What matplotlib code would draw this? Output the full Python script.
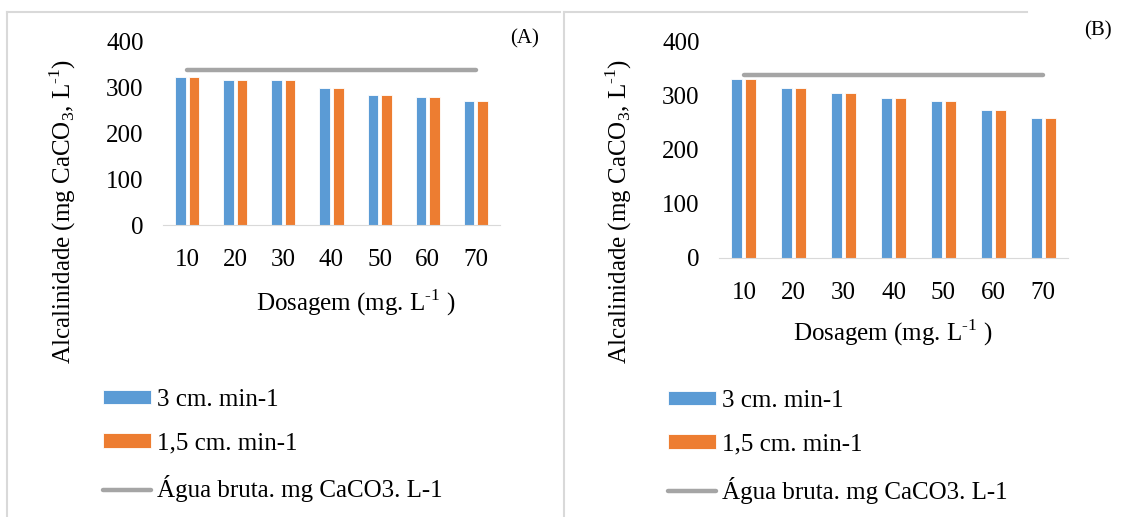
import numpy as np
import matplotlib
matplotlib.use('Agg')
import matplotlib.pyplot as plt
from matplotlib.lines import Line2D

plt.rcParams['font.family'] = ['Liberation Serif', 'DejaVu Serif']
plt.rcParams['mathtext.fontset'] = 'custom'
plt.rcParams['mathtext.rm'] = 'Liberation Serif'

# data
dosagem = ['10', '20', '30', '40', '50', '60', '70']
a_3cm = [324, 318, 316, 299, 285, 279, 271]
a_15cm = [324, 318, 316, 299, 285, 279, 271]
a_bruta = [339] * 7
b_3cm = [331, 314, 305, 296, 291, 275, 260]
b_15cm = [331, 314, 305, 296, 291, 275, 260]
b_bruta = [339] * 7

labels = ['3 cm. min-1', '1,5 cm. min-1', 'Água bruta. mg CaCO3. L-1']
c_blue = '#5B9BD5'
c_orange = '#ED7D31'
c_grey = '#A5A5A5'

W, H = 1128, 517
fs = 18
fig = plt.figure(figsize=(W / 100, H / 100), dpi=100)

def box(l, r, t, b):
    return [l / W, 1 - b / H, (r - l) / W, (b - t) / H]

def panel(rect, s1, s2, line, tag, tagpos, xlab_x, xlab_y, legpos):
    ax = fig.add_axes(rect)
    x = np.arange(len(dosagem))
    w = 0.22
    b1 = ax.bar(x - 0.14, s1, w, color=c_blue, edgecolor='white', linewidth=0.6)
    b2 = ax.bar(x + 0.14, s2, w, color=c_orange, edgecolor='white', linewidth=0.6)
    l, = ax.plot(x, line, color=c_grey, lw=3.2, solid_capstyle='round')
    ax.set_xlim(-0.5, len(dosagem) - 0.5)
    ax.set_ylim(0, 400)
    ax.set_yticks([0, 100, 200, 300, 400])
    ax.set_xticks(x)
    ax.set_xticklabels(dosagem)
    ax.tick_params(axis='both', length=0, labelsize=fs)
    ax.tick_params(axis='y', pad=14)
    ax.tick_params(axis='x', pad=17)
    for s in ['top', 'right', 'left']:
        ax.spines[s].set_visible(False)
    ax.spines['bottom'].set_color('#d9d9d9')
    ax.set_xlabel('Dosagem (mg. L$^{\\text{-1}}$ )', fontsize=fs)
    ax.xaxis.set_label_coords(xlab_x, xlab_y)
    fig.text(tagpos[0] / W, 1 - tagpos[1] / H, tag, fontsize=15, ha='center', va='center')
    fig.text((rect[0] * W - 100) / W, 1 - 211 / H,
             'Alcalinidade (mg CaCO$_{\\mathregular{3}}$, L$^{\\text{-1}}$)',
             rotation=90, fontsize=fs, ha='center', va='center')
    fig.legend([b1, b2, l], labels, loc='upper left',
               bbox_to_anchor=(legpos[0] / W, 1 - legpos[1] / H),
               frameon=False, fontsize=fs, handlelength=1.9, handleheight=0.5,
               handletextpad=0.25, labelspacing=0.85, borderaxespad=0, borderpad=0)
    return ax

panel(box(163, 500, 42, 225), a_3cm, a_15cm, a_bruta, '(A)', (525, 39), 0.573, -0.34, (103, 389))
panel(box(719, 1068, 42, 258), b_3cm, b_15cm, b_bruta, '(B)', (1098, 31), 0.497, -0.275, (668, 390))

# panel frames
fc = '#d9d9d9'
fig.add_artist(Line2D([7 / W, 7 / W], [0, 1 - 12 / H], color=fc, lw=1.5))
fig.add_artist(Line2D([7 / W, 560 / W], [1 - 12 / H, 1 - 12 / H], color=fc, lw=1.5))
fig.add_artist(Line2D([564 / W, 564 / W], [0, 1 - 12 / H], color=fc, lw=1.5))
fig.add_artist(Line2D([564 / W, 1027 / W], [1 - 12 / H, 1 - 12 / H], color=fc, lw=1.5))

fig.savefig('out.png', dpi=100)
